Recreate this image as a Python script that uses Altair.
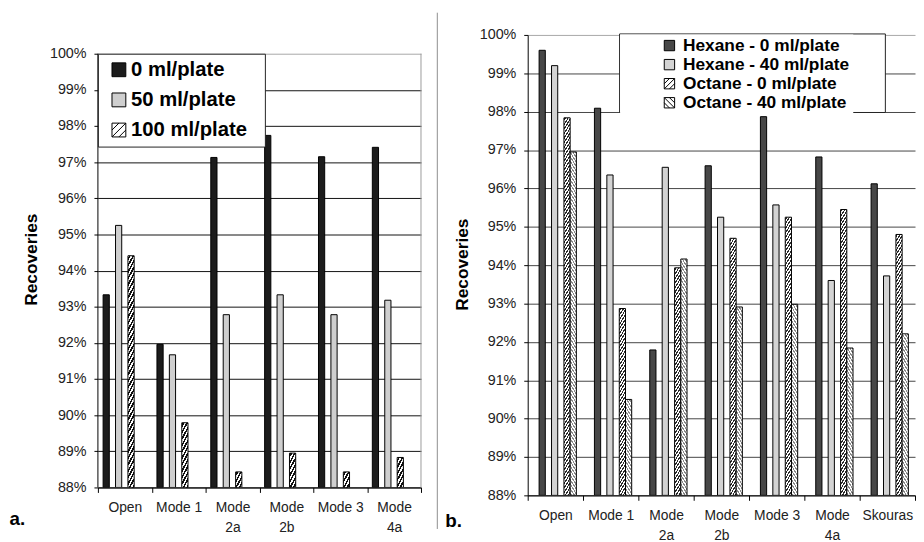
import altair as alt

FONT = "Liberation Sans"

# ---------------- data: panel a ----------------
cats_a = ["Open", "Mode 1", "Mode 2a", "Mode 2b", "Mode 3", "Mode 4a"]
series_a = ["0 ml/plate", "50 ml/plate", "100 ml/plate"]
vals_a_0 = [93.33, 91.96, 97.13, 97.74, 97.15, 97.41]
vals_a_50 = [95.25, 91.67, 92.78, 93.33, 92.78, 93.18]
vals_a_100 = [94.41, 89.79, 88.43, 88.95, 88.43, 88.83]

# ---------------- data: panel b ----------------
cats_b = ["Open", "Mode 1", "Mode 2a", "Mode 2b", "Mode 3", "Mode 4a", "Skouras"]
series_b = ["Hexane - 0 ml/plate", "Hexane - 40 ml/plate",
            "Octane - 0 ml/plate", "Octane - 40 ml/plate"]
vals_b_h0 = [99.60, 98.09, 91.79, 96.59, 97.87, 96.82, 96.12]
vals_b_h40 = [99.20, 96.35, 96.55, 95.25, 95.57, 93.60, 93.72]
vals_b_o0 = [97.84, 92.87, 93.93, 94.70, 95.25, 95.45, 94.80]
vals_b_o40 = [96.95, 90.50, 94.16, 92.91, 92.98, 91.84, 92.21]

y_ticks = list(range(88, 101))
Y_MIN, Y_MAX = 88, 100

# ---------------- layout / style ----------------
WA, HA = 327, 439          # panel a plot area (88%..100%)
TOP_A = 19                 # panel a sits lower than panel b
WB, HB = 392, 466
POUT_A = 0.835
POUT_B = 0.732
BW_A = WA / len(cats_a) / (len(series_a) + 2 * POUT_A)
BW_B = WB / len(cats_b) / (len(series_b) + 2 * POUT_B)
pxa = HA / (Y_MAX - Y_MIN)
pxb = HB / (Y_MAX - Y_MIN)

HATCH_FWD = "M-1,-1H1V1H-1Z M-1,0L0,-1 M-1,1L1,-1 M0,1L1,0"
HATCH_BACK = "M-1,-1H1V1H-1Z M-1,0L0,1 M-1,-1L1,1 M0,-1L1,0"
NBSP, ZWSP = "\u00a0", "\u200b"


def hatch(value, px_per_unit, w, color, period, frac, direction):
    """Striped linear gradient (bounding-box units) giving 45deg hatching."""
    h = max((value - Y_MIN) * px_per_unit, 0.5)
    r = h / w
    denom = w * (1 + r * r)
    smax = w + h
    stops = [{"offset": 0, "color": "white"}]
    k = 0
    while True:
        s0 = k * period + 0.3 * period
        if s0 >= smax:
            break
        s1 = min(s0 + frac * period, smax)
        t0 = round(s0 / denom, 6)
        t1 = round(s1 / denom, 6)
        stops += [{"offset": t0, "color": "white"}, {"offset": t0, "color": color},
                  {"offset": t1, "color": color}, {"offset": t1, "color": "white"}]
        k += 1
    stops.append({"offset": 1, "color": "white"})
    if direction == "fwd":
        return {"gradient": "linear", "x1": 0, "y1": 0, "x2": 1, "y2": r, "stops": stops}
    return {"gradient": "linear", "x1": 0, "y1": 1, "x2": 1, "y2": 1 - r, "stops": stops}


def build_rows(cats, series, value_lists, paints):
    rows = []
    for s, vals, paint in zip(series, value_lists, paints):
        for c, v in zip(cats, vals):
            rows.append({"cat": c, "series": s, "value": v, "paint": paint(v)})
    return rows


rows_a = build_rows(
    cats_a, series_a, [vals_a_0, vals_a_50, vals_a_100],
    [lambda v: "#1c1c1c", lambda v: "#cfcfcf",
     lambda v: hatch(v, pxa, BW_A, "#111111", 6.5, 0.5, "fwd")])
rows_b = build_rows(
    cats_b, series_b, [vals_b_h0, vals_b_h40, vals_b_o0, vals_b_o40],
    [lambda v: "#474747", lambda v: "#d3d3d3",
     lambda v: hatch(v, pxb, BW_B, "#2a2a2a", 4.6, 0.45, "fwd"),
     lambda v: hatch(v, pxb, BW_B, "#8a8a8a", 4.6, 0.45, "back")])

label_expr = ("indexof(['Mode 2a','Mode 2b','Mode 4a'], datum.value) >= 0 ? "
              "split(datum.value, ' ') : datum.value")


def x_axis(title, tx, ty):
    return alt.Axis(
        title=title, titleX=tx, titleY=ty, titleAlign="left", titleBaseline="alphabetic",
        titleFont=FONT, titleFontSize=19, titleFontWeight="bold", titleColor="black",
        tickBand="extent", labelAngle=0, labelExpr=label_expr, labelFont=FONT,
        labelFontSize=14, labelColor="#222222", labelLineHeight=21, labelPadding=8,
        labelBaseline="top", tickSize=5, tickColor="black", domainColor="black", grid=False)


def y_axis(tx, ty, grid_color, domain):
    return alt.Axis(
        values=y_ticks, labelExpr="datum.value + '%'", tickSize=4, labelPadding=8,
        labelFont=FONT, labelFontSize=14.5, labelColor="#222222", domain=domain,
        domainColor="black", tickColor="black", labelOverlap=False,
        gridColor={"condition": {"test": "datum.value == 100", "value": "#a8a8a8"},
                   "value": grid_color},
        title="Recoveries", titleX=tx, titleY=ty, titleAngle=270, titleAlign="center",
        titleBaseline="middle", titleFont=FONT, titleFontSize=17.5,
        titleFontWeight="bold", titleColor="black")


def legend(lx, ly, pad, ssize, soff, loff, fsize, rowpad, tail, stroke):
    return alt.Legend(
        title=None, orient="none", legendX=lx, legendY=ly, fillColor="white",
        strokeColor=stroke, padding=pad, symbolSize=ssize, symbolStrokeWidth=1,
        symbolOffset=soff, labelOffset=loff,
        labelFont=FONT, labelFontSize=fsize, labelFontWeight="bold",
        labelColor="black", rowPadding=rowpad, labelLimit=0,
        labelExpr="datum.label + '" + NBSP * tail + ZWSP + "'")


# ---------------- panel a ----------------
yscale_a = alt.Scale(domain=[Y_MIN, Y_MAX + TOP_A / pxa], nice=False, zero=False)
yaxis_a = y_axis(-67, 227, "#111111", False)

bars_a = alt.Chart(alt.Data(values=rows_a)).mark_bar(
    stroke="black", strokeWidth=1, clip=True).encode(
    x=alt.X("cat:N", sort=cats_a, scale=alt.Scale(paddingInner=0, paddingOuter=0),
            axis=x_axis("a.", -90, 37)),
    xOffset=alt.XOffset("series:N", sort=series_a,
                        scale=alt.Scale(paddingInner=0, paddingOuter=POUT_A)),
    y=alt.Y("value:Q", stack=None, scale=yscale_a, axis=yaxis_a),
    color=alt.Color("paint:N", scale=None, legend=None),
)
leg_a = legend(0, TOP_A, 6, 196, 5, 2, 20.5, 9.5, 2, "#222222")
keys_a = alt.Chart(alt.Data(values=rows_a)).mark_point(
    filled=True, opacity=1, strokeWidth=1, clip=True).encode(
    y=alt.YDatum(80, scale=yscale_a, axis=yaxis_a),
    fill=alt.Fill("series:N", sort=series_a,
                  scale=alt.Scale(domain=series_a, range=["#1c1c1c", "#cfcfcf", "white"]),
                  legend=leg_a),
    stroke=alt.Stroke("series:N", sort=series_a,
                      scale=alt.Scale(domain=series_a, range=["black"] * 3),
                      legend=leg_a),
    shape=alt.Shape("series:N", sort=series_a,
                    scale=alt.Scale(domain=series_a, range=["square", "square", HATCH_FWD]),
                    legend=leg_a),
)
# frame of panel a between 88% and 100%: black axis line on the left, grey edge on the right
left_line_a = alt.Chart(alt.Data(values=[{}])).mark_rule(color="black", strokeWidth=1).encode(
    x=alt.value(0), y=alt.YDatum(Y_MAX, scale=yscale_a, axis=yaxis_a), y2=alt.Y2Datum(Y_MIN))
right_line_a = alt.Chart(alt.Data(values=[{}])).mark_rule(color="#9a9a9a", strokeWidth=1).encode(
    x=alt.value(WA), y=alt.YDatum(Y_MAX, scale=yscale_a, axis=yaxis_a), y2=alt.Y2Datum(Y_MIN))
sep_a = alt.Chart(alt.Data(values=[{}])).mark_rule(color="#8c8c8c", strokeWidth=1).encode(
    x=alt.value(343.5), y=alt.value(-22.5), y2=alt.value(500))

panel_a = alt.layer(bars_a, keys_a, left_line_a, right_line_a, sep_a).properties(
    width=WA, height=HA + TOP_A, view=alt.ViewBackground(stroke="transparent"))

# ---------------- panel b ----------------
yscale_b = alt.Scale(domain=[Y_MIN, Y_MAX], nice=False, zero=False)
yaxis_b = y_axis(-66, 232, "#444444", True)

bars_b = alt.Chart(alt.Data(values=rows_b)).mark_bar(
    stroke="black", strokeWidth=1, clip=True).encode(
    x=alt.X("cat:N", sort=cats_b, scale=alt.Scale(paddingInner=0, paddingOuter=0),
            axis=x_axis("b.", -84, 32)),
    xOffset=alt.XOffset("series:N", sort=series_b,
                        scale=alt.Scale(paddingInner=0, paddingOuter=POUT_B)),
    y=alt.Y("value:Q", stack=None, scale=yscale_b, axis=yaxis_b),
    color=alt.Color("paint:N", scale=None, legend=None),
)
leg_b = legend(93, -1, 3, 110, 38.7, 5, 17.5, 0.3, 0, "transparent")
keys_b = alt.Chart(alt.Data(values=rows_b)).mark_point(
    filled=True, opacity=1, strokeWidth=1, clip=True).encode(
    y=alt.YDatum(80, scale=yscale_b, axis=yaxis_b),
    fill=alt.Fill("series:N", sort=series_b,
                  scale=alt.Scale(domain=series_b,
                                  range=["#474747", "#d3d3d3", "white", "white"]),
                  legend=leg_b),
    stroke=alt.Stroke("series:N", sort=series_b,
                      scale=alt.Scale(domain=series_b, range=["black"] * 4),
                      legend=leg_b),
    shape=alt.Shape("series:N", sort=series_b,
                    scale=alt.Scale(domain=series_b,
                                    range=["square", "square", HATCH_FWD, HATCH_BACK]),
                    legend=leg_b),
)
# frame drawn behind the panel-b legend (Excel's legend box is wider than its entries)
frame_b = alt.Chart(alt.Data(values=[{}])).mark_rect(
    fill="white", stroke="#222222", strokeWidth=1).encode(
    x=alt.value(93), x2=alt.value(362), y=alt.value(-1), y2=alt.value(78.5))

panel_b = alt.layer(bars_b, keys_b, frame_b).properties(
    width=WB, height=HB, view=alt.ViewBackground(stroke="transparent"))

chart = alt.hconcat(panel_a, panel_b, spacing=5).properties(padding=0).resolve_scale(
    x="independent", y="independent", fill="independent", stroke="independent",
    shape="independent").resolve_legend(
    fill="independent", stroke="independent", shape="independent").configure(font=FONT)

chart.save("out.html", embed_options={"renderer": "svg", "actions": False})
